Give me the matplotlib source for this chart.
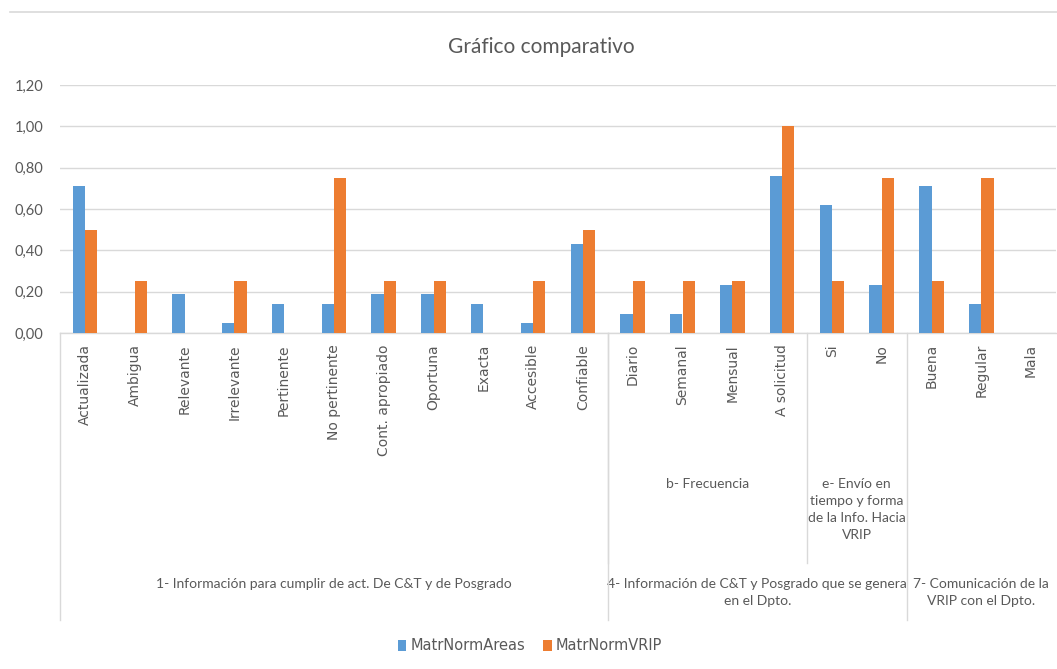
import numpy as np
import matplotlib
matplotlib.use("Agg")
import matplotlib.pyplot as plt
import matplotlib.transforms as transforms
from matplotlib.lines import Line2D

plt.rcParams['font.family'] = ['Lato', 'DejaVu Sans']

# data
categories = ['Actualizada', 'Ambigua', 'Relevante', 'Irrelevante', 'Pertinente',
              'No pertinente', 'Cont. apropiado', 'Oportuna', 'Exacta', 'Accesible',
              'Confiable', 'Diario', 'Semanal', 'Mensual', 'A solicitud',
              'Si', 'No', 'Buena', 'Regular', 'Mala']
areas = [0.71, 0.00, 0.19, 0.05, 0.14, 0.14, 0.19, 0.19, 0.14, 0.05,
         0.43, 0.09, 0.09, 0.23, 0.76, 0.62, 0.23, 0.71, 0.14, 0.00]
vrip = [0.50, 0.25, 0.00, 0.25, 0.00, 0.75, 0.25, 0.25, 0.00, 0.25,
        0.50, 0.25, 0.25, 0.25, 1.00, 0.25, 0.75, 0.25, 0.75, 0.00]
series_names = ['MatrNormAreas', 'MatrNormVRIP']

# sub groups (level 2): (first, last, label)
sub_groups = [(0, 10, ''),
              (11, 14, 'b- Frecuencia'),
              (15, 16, 'e- Envío en\ntiempo y forma\nde la Info. Hacia\nVRIP')]
# main groups (level 3)
main_groups = [(0, 10, '1- Información para cumplir de act. De C&T y de Posgrado'),
               (11, 16, '4- Información de C&T y Posgrado que se genera\nen el Dpto.'),
               (17, 19, '7- Comunicación de la\nVRIP con el Dpto.')]
yticks = [0.0, 0.2, 0.4, 0.6, 0.8, 1.0, 1.2]

blue = '#5B9BD5'
orange = '#ED7D31'
txt = '#595959'
grid = '#D9D9D9'

W, H = 1057, 669
fig = plt.figure(figsize=(W / 100, H / 100), dpi=100)


def fy(py):
    return (H - py) / H


ax = fig.add_axes([60 / W, fy(333), 996 / W, (333 - 85) / H])

x = np.arange(len(categories))
bw = 0.245
ax.bar(x - bw / 2, areas, bw, color=blue, label=series_names[0], zorder=3)
ax.bar(x + bw / 2, vrip, bw, color=orange, label=series_names[1], zorder=3)

ax.set_xlim(-0.5, len(categories) - 0.5)
ax.set_ylim(0, 1.2)
ax.set_yticks(yticks)
ax.set_yticklabels([('%.2f' % v).replace('.', ',') for v in yticks],
                   fontsize=10.5, color=txt)
ax.tick_params(axis='y', length=0, pad=12)
ax.set_xticks([])
ax.grid(axis='y', color=grid, linewidth=1, zorder=0)
for s in ['top', 'right', 'left']:
    ax.spines[s].set_visible(False)
ax.spines['bottom'].set_color(grid)
ax.spines['bottom'].set_linewidth(1)

tr = transforms.blended_transform_factory(ax.transData, fig.transFigure)

# level 1 labels
for i, c in enumerate(categories):
    ax.text(i, fy(344), c, rotation=90, ha='center', va='top',
            fontsize=10, family='DejaVu Sans', color=txt, transform=tr)

# level 2 labels and separators
for a, b, lab in sub_groups:
    if lab:
        ax.text((a + b) / 2, fy(478), lab, ha='center', va='top', fontsize=10,
                color=txt, transform=tr, linespacing=1.5)
for a, b, lab in sub_groups[1:]:
    fig.add_artist(Line2D([a - 0.5, a - 0.5], [fy(333), fy(563)], color=grid,
                          lw=1, transform=tr))

# level 3 labels and separators
for a, b, lab in main_groups:
    ax.text((a + b) / 2, fy(578), lab, ha='center', va='top', fontsize=10,
            color=txt, transform=tr, linespacing=1.5)
    fig.add_artist(Line2D([a - 0.5, a - 0.5], [fy(333), fy(620)], color=grid,
                          lw=1, transform=tr))

# chart border at top
fig.add_artist(Line2D([10 / W, 1], [fy(12), fy(12)], color=grid, lw=1.2))

fig.text(541 / W, fy(47), 'Gráfico comparativo', ha='center', va='center',
         fontsize=15, color=txt)

fig.legend(loc='center', bbox_to_anchor=(530 / W, fy(646)), ncol=2,
           frameon=False, prop={'family': 'DejaVu Sans', 'size': 10.5},
           labelcolor=txt, handlelength=0.6, handleheight=0.7,
           handletextpad=0.3, columnspacing=1.2)

fig.savefig('out.png', dpi=100)
